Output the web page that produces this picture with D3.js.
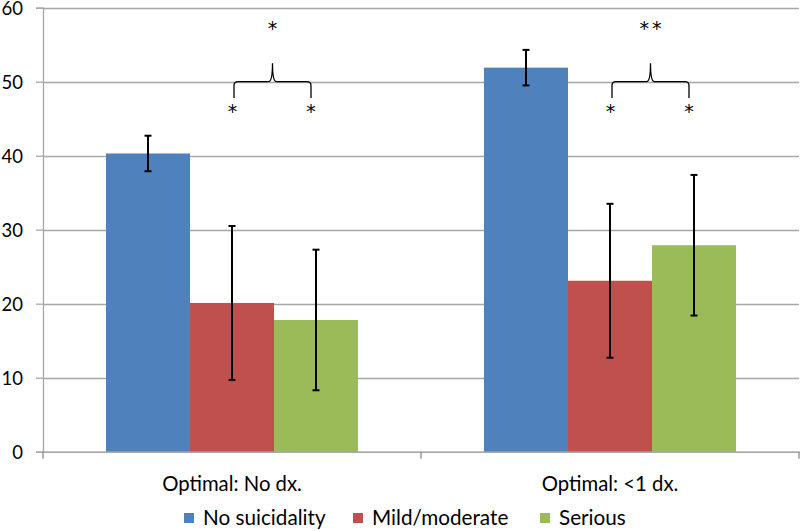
<!DOCTYPE html>
<html>
<head>
<meta charset="utf-8">
<script src="https://cdn.jsdelivr.net/npm/d3@7"></script>
<style>
  html, body { margin: 0; padding: 0; background: #fff; }
  svg text { font-family: Lato, "Open Sans", sans-serif; fill: #000; }
  svg text.star { font-family: "DejaVu Sans", sans-serif; }
</style>
</head>
<body>
<svg id="chart" width="800" height="531"></svg>
<script>
const categories = ["Optimal: No dx.", "Optimal: <1 dx."];
const seriesNames = ["No suicidality", "Mild/moderate", "Serious"];
const seriesColors = ["#4F81BD", "#C0504D", "#9BBB59"];
const noSuicidality = [40.3, 51.9];
const mildModerate = [20.1, 23.1];
const serious = [17.8, 27.9];
const errNoSuicidality = [2.4, 2.4];
const errMildModerate = [10.4, 10.4];
const errSerious = [9.5, 9.5];
const yTicks = [0, 10, 20, 30, 40, 50, 60];
const groupStars = ["*", "**"];
const pairStars = ["*", "*"];

const values = [noSuicidality, mildModerate, serious];
const errors = [errNoSuicidality, errMildModerate, errSerious];

const svg = d3.select("#chart");
const mLeft = 43, mRight = 799, mTop = 7.7, mBottom = 451.7;

const x0 = d3.scaleBand().domain(categories).range([mLeft, mRight]).paddingInner(0).paddingOuter(0);
const x1 = d3.scaleBand().domain(seriesNames).range([0, x0.bandwidth()]).paddingInner(0).paddingOuter(0.75);
const y = d3.scaleLinear().domain([0, 60]).range([mBottom, mTop]);

// gridlines
svg.append("g").selectAll("line").data(yTicks.filter(t => t > 0)).join("line")
  .attr("x1", mLeft).attr("x2", mRight)
  .attr("y1", d => Math.round(y(d)) + 0.5).attr("y2", d => Math.round(y(d)) + 0.5)
  .attr("stroke", "#A6A6A6").attr("stroke-width", 1.3);

// y axis
const yAxis = d3.axisLeft(y).tickValues(yTicks).tickSize(7).tickPadding(13);
const gy = svg.append("g").attr("transform", `translate(${mLeft},0)`).call(yAxis);
gy.attr("font-family", null).attr("font-size", null);
gy.select(".domain").attr("stroke", "#A6A6A6").attr("stroke-width", 1.3);
gy.selectAll(".tick line").attr("stroke", "#A6A6A6").attr("stroke-width", 1.3);
gy.selectAll(".tick text").style("font-size", "18.5px").attr("fill", "#000").attr("dy", "0.37em");

// bars
const groups = svg.append("g").selectAll("g").data(categories).join("g")
  .attr("transform", d => `translate(${x0(d)},0)`);

seriesNames.forEach((s, si) => {
  groups.append("rect")
    .attr("x", x1(s))
    .attr("width", x1.bandwidth())
    .attr("y", (d, ci) => y(values[si][ci]))
    .attr("height", (d, ci) => y(0) - y(values[si][ci]))
    .attr("fill", seriesColors[si]);
});

// x axis
const xAxis = d3.axisBottom(x0).tickSize(0).tickPadding(0);
const gx = svg.append("g").attr("transform", `translate(0,${mBottom})`).call(xAxis);
gx.attr("font-family", null).attr("font-size", null);
gx.select(".domain").attr("stroke", "#8C8C8C").attr("stroke-width", 1.3);
gx.selectAll(".tick text").style("font-size", "20.3px").attr("fill", "#000")
  .attr("dy", null).attr("y", 491.5 - mBottom);
// category boundary ticks
const boundaries = [mLeft].concat(categories.map(c => x0(c) + x0.bandwidth()));
svg.append("g").selectAll("line").data(boundaries).join("line")
  .attr("x1", d => d).attr("x2", d => d)
  .attr("y1", mBottom).attr("y2", mBottom + 7)
  .attr("stroke", "#8C8C8C").attr("stroke-width", 1.3);

// error bars
seriesNames.forEach((s, si) => {
  const cx = (d) => x1(s) + x1.bandwidth() / 2;
  const eg = groups.append("g");
  eg.append("line")
    .attr("x1", cx).attr("x2", cx)
    .attr("y1", (d, ci) => y(values[si][ci] + errors[si][ci]))
    .attr("y2", (d, ci) => y(values[si][ci] - errors[si][ci]))
    .attr("stroke", "#000").attr("stroke-width", 2);
  [1, -1].forEach(sign => {
    eg.append("line")
      .attr("x1", d => cx(d) - 3.5).attr("x2", d => cx(d) + 3.5)
      .attr("y1", (d, ci) => y(values[si][ci] + sign * errors[si][ci]))
      .attr("y2", (d, ci) => y(values[si][ci] + sign * errors[si][ci]))
      .attr("stroke", "#000").attr("stroke-width", 2);
  });
});

// significance brackets
categories.forEach((c, ci) => {
  const xl = x0(c) + x1(seriesNames[1]) + x1.bandwidth() / 2 + 2;
  const xr = x0(c) + x1(seriesNames[2]) + x1.bandwidth() / 2 - 5;
  const xm = (xl + xr) / 2;
  const yh = y(50), yb = y(47.8), yp = y(52.5);
  const p = d3.path();
  p.moveTo(xl, yb);
  p.lineTo(xl, yh + 4);
  p.quadraticCurveTo(xl, yh, xl + 4, yh);
  p.lineTo(xm - 4, yh);
  p.quadraticCurveTo(xm, yh, xm, yp);
  p.quadraticCurveTo(xm, yh, xm + 4, yh);
  p.lineTo(xr - 4, yh);
  p.quadraticCurveTo(xr, yh, xr, yh + 4);
  p.lineTo(xr, yb);
  svg.append("path").attr("d", p.toString()).attr("fill", "none")
    .attr("stroke", "#000").attr("stroke-width", 1.3);
  [xl - 1.5, xr].forEach((xx, k) => {
    svg.append("text").attr("class", "star").attr("x", xx).attr("y", y(46.5) + 10)
      .attr("text-anchor", "middle").style("font-size", "19px").text(pairStars[k]);
  });
  const ls = groupStars[ci].length > 1 ? 3 : 0;
  svg.append("text").attr("class", "star").attr("x", xm + ls / 2).attr("y", y(57.7) + 10)
    .attr("text-anchor", "middle").style("font-size", "19px").style("letter-spacing", ls + "px")
    .text(groupStars[ci]);
});

// legend
const legendX = [184, 353, 540];
const lg = svg.append("g").selectAll("g").data(seriesNames).join("g")
  .attr("transform", (d, i) => `translate(${legendX[i]},513)`);
lg.append("rect").attr("width", 10).attr("height", 10).attr("fill", (d, i) => seriesColors[i]);
lg.append("text").attr("x", 19).attr("y", 12).style("font-size", "20.7px").text(d => d);
</script>
</body>
</html>
